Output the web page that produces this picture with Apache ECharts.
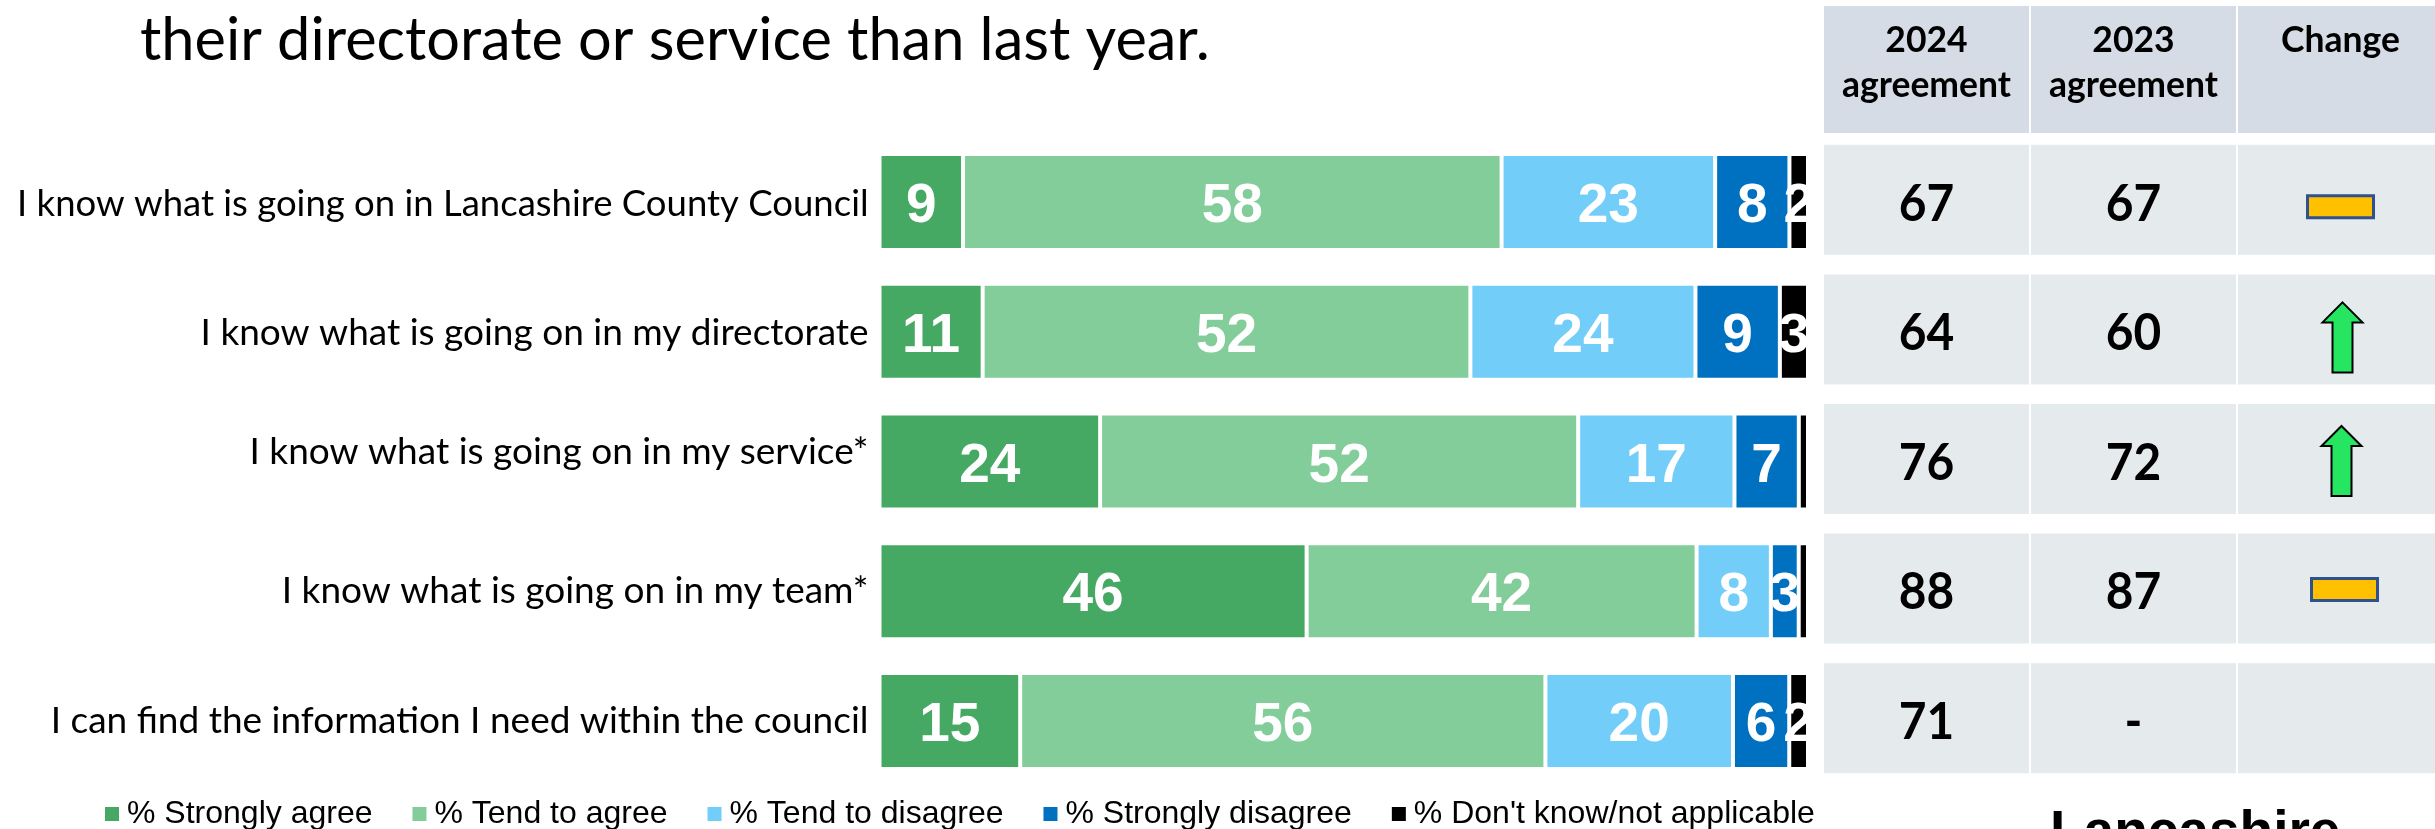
<!DOCTYPE html>
<html>
<head>
<meta charset="utf-8">
<style>html,body{margin:0;padding:0;background:#fff;overflow:hidden}#chart{width:2435px;height:829px}</style>
<script src="https://cdn.jsdelivr.net/npm/echarts@6/dist/echarts.min.js"></script>
</head>
<body>
<div id="chart"></div>
<script>
// Survey statements and response percentages
const statements = [
  'I know what is going on in Lancashire County Council',
  'I know what is going on in my directorate',
  'I know what is going on in my service*',
  'I know what is going on in my team*',
  'I can find the information I need within the council'
];
const stronglyAgree = [9, 11, 24, 46, 15];
const tendToAgree = [58, 52, 52, 42, 56];
const tendToDisagree = [23, 24, 17, 8, 20];
const stronglyDisagree = [8, 9, 7, 3, 6];
const dontKnow = [2, 3, 1, 1, 2];

// Agreement table
const tableColumns = ['2024\nagreement', '2023\nagreement', 'Change'];
const agreement2024 = ['67', '64', '76', '88', '71'];
const agreement2023 = ['67', '60', '72', '87', '-'];
const changeMarks = ['same', 'up', 'up', 'same', ''];

const titleText = 'their directorate or service than last year.';

const responses = [
  ['% Strongly agree', stronglyAgree, '#46A963'],
  ['% Tend to agree', tendToAgree, '#82CD99'],
  ['% Tend to disagree', tendToDisagree, '#72CDF9'],
  ['% Strongly disagree', stronglyDisagree, '#0070C0'],
  ["% Don't know/not applicable", dontKnow, '#000000']
];

// Each row is stacked to 100%, so rounded answers still fill the full width
const rowTotals = statements.map((_, r) => responses.reduce((sum, s) => sum + s[1][r], 0));

const barSeries = responses.map(([name, values, color]) => ({
  type: 'bar',
  name,
  stack: 'share',
  xAxisIndex: 0,
  yAxisIndex: 0,
  barWidth: 96,
  itemStyle: { color, borderColor: '#fff', borderWidth: 2 },
  label: {
    show: true,
    position: 'inside',
    color: '#fff',
    fontFamily: 'Liberation Sans',
    fontWeight: 'bold',
    fontSize: 55,
    formatter: p => (p.data.shown > 1 ? String(p.data.shown) : '')
  },
  labelLayout: { hideOverlap: false, dy: 5 },
  data: values.map((v, r) => ({ value: v / rowTotals[r] * 100, shown: v }))
}));

// Table body: one shaded cell per row and column, with its number or change mark
const tableCells = [];
statements.forEach((_, r) => {
  tableCells.push([0, r, agreement2024[r]]);
  tableCells.push([1, r, agreement2023[r]]);
  tableCells.push([2, r, changeMarks[r]]);
});

const markNudge = [[0, 7], [2, 8], [1, 2], [4, 1], [0, 0]];

// Statement label styles, one per row
const statementStyles = {
  r0: { fontFamily: 'Lato', fontSize: 36.5, color: '#000', padding: [4, 0, 0, 0] },
  r1: { fontFamily: 'Lato', fontSize: 37, color: '#000', padding: [3, 0, 0, 0] },
  r2: { fontFamily: 'Lato', fontSize: 37, color: '#000', padding: [0, 0, 18, 0] },
  r3: { fontFamily: 'Lato', fontSize: 37, color: '#000' },
  r4: { fontFamily: 'Lato', fontSize: 37, color: '#000' }
};

function changeMark(kind, cx, cy) {
  if (kind === 'up') {
    const top = cy - 35, bottom = cy + 35, neck = top + 20;
    return {
      type: 'polygon',
      shape: { points: [[cx, top], [cx + 20, neck], [cx + 10, neck], [cx + 10, bottom], [cx - 10, bottom], [cx - 10, neck], [cx - 20, neck]] },
      style: { fill: '#26E661', stroke: '#000', lineWidth: 2 }
    };
  }
  if (kind === 'same') {
    return {
      type: 'rect',
      shape: { x: cx - 33, y: cy - 11, width: 66, height: 22 },
      style: { fill: '#FFC000', stroke: '#2F528F', lineWidth: 3 }
    };
  }
  return null;
}

function renderTableCell(params, api) {
  const col = api.value(0), row = api.value(1);
  const [cx, cy] = api.coord([col, row]);
  const children = [{
    type: 'rect',
    shape: { x: cx - 102.5, y: cy - 55, width: 205, height: 110 },
    style: { fill: '#E5EAED' }
  }];
  const text = tableCells[params.dataIndex][2];
  if (col < 2) {
    children.push({
      type: 'text',
      x: cx,
      y: cy + 4,
      scaleX: 0.92,
      style: {
        text,
        align: 'center', verticalAlign: 'middle',
        font: 'bold 52px Lato', fill: '#000'
      }
    });
  } else {
    const mark = changeMark(text, cx + markNudge[row][0], cy + markNudge[row][1]);
    if (mark) children.push(mark);
  }
  return { type: 'group', children };
}

function renderHeaderCell(params, api) {
  const [cx] = api.coord([params.dataIndex, 0]);
  return {
    type: 'group',
    children: [{
      type: 'rect',
      shape: { x: cx - 102.5, y: 6, width: 205, height: 127 },
      style: { fill: '#D6DCE5' }
    }, {
      type: 'text',
      style: {
        x: cx, y: 18, text: tableColumns[params.dataIndex],
        align: 'center', verticalAlign: 'top',
        font: 'bold 35.5px Lato', lineHeight: 45, fill: '#000'
      }
    }]
  };
}

const chart = echarts.init(document.getElementById('chart'));
chart.setOption({
  animation: false,
  backgroundColor: '#fff',
  title: {
    text: titleText,
    left: 140,
    top: 5,
    padding: 0,
    textStyle: { fontFamily: 'Lato', fontWeight: 'normal', fontSize: 59.5, color: '#000', lineHeight: 72 }
  },
  legend: {
    left: 103,
    top: 798,
    padding: 0,
    icon: 'rect',
    itemWidth: 16,
    itemHeight: 16,
    itemGap: 38,
    selectedMode: false,
    data: responses.map(r => r[0]),
    textStyle: { fontFamily: 'Liberation Sans', fontSize: 32, color: '#000', padding: [0, 0, 0, 2] }
  },
  grid: [
    { left: 879.5, top: 137, width: 928.5, height: 649 },
    { left: 1823, top: 135, width: 612, height: 648 }
  ],
  xAxis: [
    { type: 'value', gridIndex: 0, min: 0, max: 100, show: false },
    // Table columns are a steady 207px apart; the last one runs off the page edge
    { type: 'value', gridIndex: 1, min: -0.5, max: 2.4565, show: false }
  ],
  yAxis: [
    {
      type: 'category', gridIndex: 0, inverse: true,
      data: statements,
      axisLine: { show: false }, axisTick: { show: false },
      axisLabel: {
        margin: 11,
        formatter: (value, index) => `{r${index}|${value}}`,
        rich: statementStyles
      }
    },
    { type: 'category', gridIndex: 1, inverse: true, data: statements, show: false }
  ],
  series: barSeries.concat([
    {
      type: 'custom', xAxisIndex: 1, yAxisIndex: 1, clip: false,
      renderItem: renderTableCell,
      encode: { x: 0, y: 1 },
      data: tableCells.map(c => [c[0], c[1]])
    },
    {
      type: 'custom', xAxisIndex: 1, yAxisIndex: 1, clip: false,
      renderItem: renderHeaderCell,
      encode: { x: 0 },
      data: tableColumns.map((_, i) => [i, 0])
    }
  ]),
  graphic: [{
    type: 'text',
    left: 2050,
    top: 806,
    style: { text: 'Lancashire', font: 'bold 55px "Liberation Sans"', fill: '#000' }
  }]
});
</script>
</body>
</html>
